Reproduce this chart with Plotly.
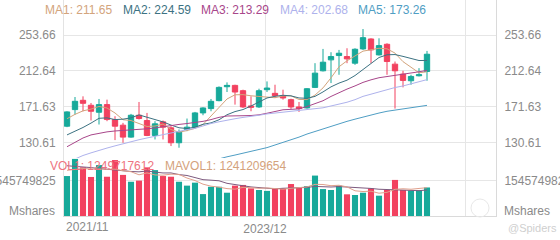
import plotly.graph_objects as go

# ---------------- data ----------------
idx = list(range(46))
opens = [149.49,168.43,179.04,173.36,165.40,174.12,157.07,150.63,136.99,161.99,155.93,138.89,154.42,147.60,130.55,145.71,148.36,164.65,169.57,178.66,194.57,196.09,190.02,172.60,171.46,191.16,187.00,184.34,179.80,171.46,170.33,193.81,212.75,225.25,230.18,229.04,221.47,237.75,249.12,230.94,243.06,220.33,208.97,201.39,207.07,212.00]
highs = [166.54,182.83,183.59,176.01,180.56,179.80,160.86,153.28,163.51,177.15,164.65,155.18,155.93,149.49,145.71,158.21,165.78,171.09,180.56,194.95,199.50,196.84,191.16,183.59,192.30,200.63,196.84,191.16,180.93,177.15,193.06,221.47,237.75,233.97,236.62,238.51,238.51,260.48,249.88,249.88,244.19,223.36,212.75,208.21,215.79,235.48]
lows = [148.36,162.75,166.54,155.93,151.39,155.18,133.58,130.55,136.24,157.07,138.13,134.34,134.34,126.77,124.87,143.81,147.60,161.99,166.54,177.90,188.51,174.12,170.33,166.54,170.33,188.51,181.69,179.80,169.19,165.78,169.57,193.06,212.00,198.74,208.21,221.47,219.57,236.62,221.47,230.18,208.21,169.57,193.81,196.84,206.32,201.39]
closes = [165.78,177.90,175.63,166.54,174.12,157.07,149.49,136.99,161.99,158.21,138.89,152.15,148.36,130.55,143.05,148.36,164.65,170.33,177.90,193.81,196.09,188.51,171.46,171.09,190.02,193.06,184.34,181.69,171.46,169.57,192.30,210.10,222.60,229.04,232.83,226.39,237.38,250.63,236.62,241.54,223.36,212.75,201.77,206.32,208.21,231.69]

ma1 = [158,163,167,169,171.99,170.25,164.57,156.84,155.93,152.75,149.11,149.65,151.92,145.63,142.60,144.49,146.99,151.39,160.86,171.01,180.56,185.33,185.55,184.19,183.43,182.83,181.99,184.04,184.11,180.02,179.87,185.02,193.21,204.72,217.37,224.19,229.65,235.25,236.77,238.51,237.91,232.98,223.21,217.15,210.48,211.65]
ma2 = [139.5,143.5,148,153,158.5,159,157,157.5,159,162.37,159.68,157.11,154.38,150.78,147.68,146.80,148.32,151.65,153.25,156.81,162.53,166.16,168.47,172.53,177.22,181.69,183.66,184.80,184.15,181.73,181.35,183.51,188.62,194.42,198.70,202.03,207.34,214.23,220.75,227.94,231.05,231.31,229.23,226.96,224.50,224.59]
ma3 = [126,131,136,139.5,141.5,143,144,144.5,145,145.5,146.5,147.5,149,150,151.5,152.5,153.5,155,157,159.59,161.10,161.63,161.43,161.65,162.45,164.25,165.99,168.23,168.70,169.27,171.94,174.84,178.55,183.47,187.96,191.86,195.50,199.51,202.45,204.84,206.20,207.41,208.93,210.69,211.60,213.29]
ma4 = [108,112,116,119,122,124.5,127,129.5,132,134,136,138,140,142,143.5,145.5,147,150,152.5,154.5,156.5,158,159.5,160.5,162,163.5,164.5,165.5,166.5,166.97,167.85,168.93,170.49,172.58,174.53,176.84,179.77,183.56,186.05,188.83,191.64,193.66,195.44,197.97,200.14,202.68]
ma5 = [None,None,None,None,None,None,None,None,None,None,None,None,None,None,None,None,105,107.5,110,112.3,114.5,116.5,118.5,120.5,122.5,125,128,131,133.5,137,140.5,143.5,146.5,149.5,152.5,155,157.5,160,162.5,164.5,166.5,168,169.5,171,172.3,173.26]

# volumes in billions of shares
vol_bn = [1.75,2.50,2.13,1.71,2.23,1.72,2.45,1.80,1.50,1.55,2.13,2.01,1.75,1.72,1.50,1.33,1.46,0.96,1.28,1.28,1.02,1.33,1.36,1.21,1.14,1.10,1.21,1.21,1.40,1.24,1.31,1.77,1.18,1.14,1.33,0.95,0.92,1.02,1.21,0.89,1.14,1.58,1.14,1.11,1.126,1.249717612]
mavol1_bn = [2.0,2.05,2.08,2.06,2.064,2.058,2.048,1.982,1.94,1.804,1.886,1.798,1.788,1.832,1.822,1.662,1.552,1.394,1.306,1.262,1.20,1.174,1.254,1.24,1.212,1.228,1.204,1.174,1.212,1.232,1.274,1.386,1.38,1.328,1.346,1.274,1.104,1.072,1.086,0.998,1.036,1.168,1.192,1.172,1.219,1.241209654]
mavol2_bn = [2.2,2.18,2.15,2.12,2.08,2.04,2.0,1.97,1.95,1.934,1.972,1.923,1.885,1.886,1.813,1.774,1.675,1.591,1.569,1.542,1.431,1.363,1.324,1.273,1.237,1.214,1.189,1.214,1.226,1.222,1.251,1.295,1.277,1.27,1.289,1.274,1.245,1.226,1.207,1.172,1.155,1.136,1.132,1.129,1.109,1.139]

price_ticks = [130.61, 171.63, 212.64, 253.66]
vol_tick = 1545749825
x_tick_pos = [-0.375, 24.75, 49.75]
x_tick_text = ["", "2023/12", ""]
first_label = "2021/11"

ma_names = ["MA1", "MA2", "MA3", "MA4", "MA5"]
ma_last = ["211.65", "224.59", "213.29", "202.68", "173.26"]

# ---------------- styles ----------------
UP = "#17A99A"
DOWN = "#F2415F"
MA_COLORS = ["#D3A47C", "#3C7282", "#A8468A", "#AEB2EC", "#4F9EC4"]
GRID = "#E6E6E6"
LBL = "#8A8A8A"
FONT = "Liberation Sans, Arial, sans-serif"

vol = [v * 1e9 for v in vol_bn]
mavol1 = [v * 1e9 for v in mavol1_bn]
mavol2 = [v * 1e9 for v in mavol2_bn]
vol_colors = [UP if c >= o else DOWN for o, c in zip(opens, closes)]

fig = go.Figure()

fig.add_trace(go.Candlestick(
    x=idx, open=opens, high=highs, low=lows, close=closes,
    increasing=dict(line=dict(color=UP, width=1), fillcolor=UP),
    decreasing=dict(line=dict(color=DOWN, width=1), fillcolor=DOWN),
    whiskerwidth=0, hoverinfo="skip", showlegend=False, yaxis="y"))

for arr, col in zip([ma1, ma2, ma3, ma4, ma5], MA_COLORS):
    fig.add_trace(go.Scatter(x=idx, y=arr, mode="lines", line=dict(color=col, width=1),
                             hoverinfo="skip", showlegend=False, yaxis="y", connectgaps=False))

fig.add_trace(go.Bar(x=idx, y=vol, marker=dict(color=vol_colors, line=dict(width=0)),
                     width=0.76, hoverinfo="skip", showlegend=False, yaxis="y2"))
fig.add_trace(go.Scatter(x=idx, y=mavol2, mode="lines", line=dict(color="#7D5A7E", width=1),
                         hoverinfo="skip", showlegend=False, yaxis="y2"))
fig.add_trace(go.Scatter(x=idx, y=mavol1, mode="lines", line=dict(color="#E0A08C", width=1),
                         hoverinfo="skip", showlegend=False, yaxis="y2"))

# invisible anchors for the right-hand axes
fig.add_trace(go.Scatter(x=[0], y=[200], mode="markers", marker=dict(opacity=0),
                         hoverinfo="skip", showlegend=False, yaxis="y3"))
fig.add_trace(go.Scatter(x=[0], y=[1e9], mode="markers", marker=dict(opacity=0),
                         hoverinfo="skip", showlegend=False, yaxis="y4"))

W, H = 560, 240
x0, x1 = 64 / W, 496 / W
price_range = [113.13, 293.65]
vol_range = [0, 2.54e9]
split = (H - 158) / H
vbot = (H - 216) / H

ytick_common = dict(ticks="", tickfont=dict(size=12, color=LBL, family=FONT),
                    zeroline=False, fixedrange=True, ticklabelstandoff=5, automargin=False)

fig.update_layout(
    width=W, height=H, margin=dict(l=0, r=0, t=0, b=0, autoexpand=False),
    paper_bgcolor="white", plot_bgcolor="white", showlegend=False,
    font=dict(family=FONT, size=12, color=LBL),
    boxgap=0.3, boxgroupgap=0.05,
    xaxis=dict(domain=[x0, x1], range=[-0.375, 53.625], anchor="y2",
               tickmode="array", tickvals=x_tick_pos, ticktext=x_tick_text,
               showgrid=True, gridcolor=GRID, gridwidth=1,
               showline=True, linecolor="#DADADA", linewidth=1,
               ticks="", tickfont=dict(size=12, color=LBL, family=FONT),
               ticklabelstandoff=2, automargin=False,
               zeroline=False, rangeslider=dict(visible=False), fixedrange=True),
    yaxis=dict(domain=[split, 1.0], range=price_range, anchor="x", side="left",
               tickmode="array", tickvals=price_ticks, ticktext=[f"{v:.2f}" for v in price_ticks],
               showgrid=True, gridcolor=GRID, showline=True, linecolor="#E3E3E3", **ytick_common),
    yaxis2=dict(domain=[vbot, split], range=vol_range, anchor="x", side="left",
                tickmode="array", tickvals=[vol_tick], ticktext=[str(vol_tick)],
                showgrid=True, gridcolor=GRID, showline=True, linecolor="#E3E3E3", **ytick_common),
    yaxis3=dict(overlaying="y", range=price_range, anchor="x", side="right",
                tickmode="array", tickvals=price_ticks, ticktext=[f"{v:.2f}" for v in price_ticks],
                showgrid=False, showline=True, linecolor="#DADADA", **ytick_common),
    yaxis4=dict(overlaying="y2", range=vol_range, anchor="x", side="right",
                tickmode="array", tickvals=[vol_tick], ticktext=[str(vol_tick)],
                showgrid=False, showline=True, linecolor="#DADADA", **ytick_common),
)

ann = []
ma_x = [43, 121, 199, 278, 356]
for name, val, col, px in zip(ma_names, ma_last, MA_COLORS, ma_x):
    ann.append(dict(x=px / W, y=1 - 10 / H, xref="paper", yref="paper", xanchor="left", yanchor="middle",
                    text=f"{name}: {val}", showarrow=False, font=dict(size=12, color=col, family=FONT)))
ann.append(dict(x=48 / W, y=1 - 166 / H, xref="paper", yref="paper", xanchor="left", yanchor="middle",
                text=f"VOL1: {int(round(vol[-1]))}", showarrow=False,
                font=dict(size=12, color="#EE7480", family=FONT)))
ann.append(dict(x=163 / W, y=1 - 166 / H, xref="paper", yref="paper", xanchor="left", yanchor="middle",
                text=f"MAVOL1: {int(round(mavol1[-1]))}", showarrow=False,
                font=dict(size=12, color="#D4A27C", family=FONT)))
ann.append(dict(x=64 / W, y=1 - 227 / H, xref="paper", yref="paper", xanchor="left", yanchor="middle",
                text=first_label, showarrow=False, font=dict(size=12, color=LBL, family=FONT)))
ann.append(dict(x=57 / W, y=1 - 211 / H, xref="paper", yref="paper", xanchor="right", yanchor="middle",
                text="Mshares", showarrow=False, font=dict(size=12, color=LBL, family=FONT)))
ann.append(dict(x=502 / W, y=1 - 211 / H, xref="paper", yref="paper", xanchor="left", yanchor="middle",
                text="Mshares", showarrow=False, font=dict(size=12, color=LBL, family=FONT)))
ann.append(dict(x=506 / W, y=1 - 228 / H, xref="paper", yref="paper", xanchor="left", yanchor="middle",
                text="@Spiders", showarrow=False, font=dict(size=11, color="#CFCFCF", family=FONT)))
fig.update_layout(annotations=ann)

fig.add_shape(type="circle", xref="paper", yref="paper",
              x0=471 / W, x1=489 / W, y0=1 - 217 / H, y1=1 - 199 / H,
              line=dict(color="#E8E8E8", width=1))

fig.write_html("out.html")
